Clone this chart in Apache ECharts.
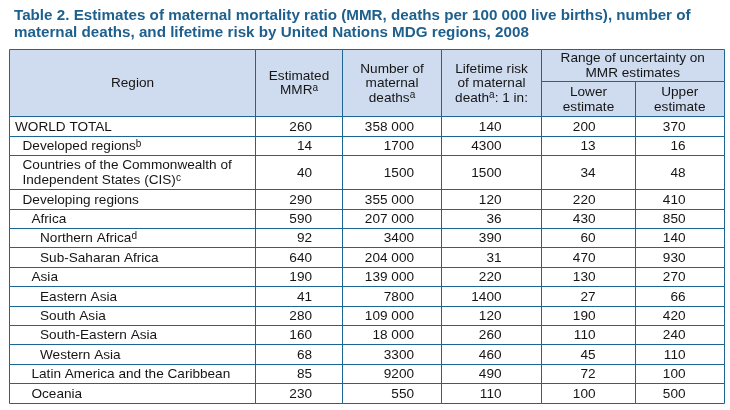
<!DOCTYPE html>
<html><head><meta charset="utf-8">
<script src="https://cdn.jsdelivr.net/npm/echarts@6/dist/echarts.min.js"></script>
<style>html,body{margin:0;padding:0;background:#fff}#c{width:730px;height:410px}</style>
</head><body><div id="c"></div>
<script>
// ---------- data ----------
const titleText = 'Table 2. Estimates of maternal mortality ratio (MMR, deaths per 100 000 live births), number of\nmaternal deaths, and lifetime risk by United Nations MDG regions, 2008';
const columnTitles = [
  'Region',
  'Estimated\nMMR{sup|a}',
  'Number of\nmaternal\ndeaths{sup|a}',
  'Lifetime risk\nof maternal\ndeath{sup|a}: 1 in:',
  'Range of uncertainty on\nMMR estimates',
  'Lower\nestimate',
  'Upper\nestimate'
];
const regions = [
  'WORLD TOTAL',
  'Developed regions',
  'Countries of the Commonwealth of\nIndependent States (CIS)',
  'Developing regions',
  'Africa',
  'Northern Africa',
  'Sub-Saharan Africa',
  'Asia',
  'Eastern Asia',
  'South Asia',
  'South-Eastern Asia',
  'Western Asia',
  'Latin America and the Caribbean',
  'Oceania'
];
const regionNotes = ['', 'b', 'c', '', '', 'd', '', '', '', '', '', '', '', ''];
const regionLevels = [0, 1, 1, 1, 2, 3, 3, 2, 3, 3, 3, 3, 2, 2];
const mmr          = [260, 14, 40, 290, 590, 92, 640, 190, 41, 280, 160, 68, 85, 230];
const deaths       = [358000, 1700, 1500, 355000, 207000, 3400, 204000, 139000, 7800, 109000, 18000, 3300, 9200, 550];
const lifetimeRisk = [140, 4300, 1500, 120, 36, 390, 31, 220, 1400, 120, 260, 460, 490, 110];
const lowerEst     = [200, 13, 34, 220, 430, 60, 470, 130, 27, 190, 110, 45, 72, 100];
const upperEst     = [370, 16, 48, 410, 850, 140, 930, 270, 66, 420, 240, 110, 100, 500];

// ---------- layout / style ----------
const FONT = '"Liberation Sans", Arial, Helvetica, sans-serif';
const LINE = '#1d6592';
const HEAD_BG = '#cfdcef';
const TXT = '#151515';
const FS = 13.6;
const COL_EDGES = [0, 246, 333, 432, 532, 626, 714.5];
const NUM_RIGHT = [302.5, 404.5, 492, 586, 676];
const INDENT = [5.5, 13, 22, 30.5];
const HEADER_H = 3.5, SPLIT_H = 1.7;
const rowH = regions.map(r => r.indexOf('\n') >= 0 ? 1.75 : 1);
const rowTop = [];
let acc = HEADER_H;
rowH.forEach(h => { rowTop.push(acc); acc += h; });
const TOTAL_H = acc;
const headerCells = [
  [0, 1, 0, HEADER_H], [1, 2, 0, HEADER_H], [2, 3, 0, HEADER_H], [3, 4, 0, HEADER_H],
  [4, 6, 0, SPLIT_H], [4, 5, SPLIT_H, HEADER_H], [5, 6, SPLIT_H, HEADER_H]
];
const rich = {
  sup: { fontSize: 10, fontFamily: FONT, fill: TXT, color: TXT, verticalAlign: 'top', lineHeight: 13 }
};
const snap = v => Math.round(v - 0.5) + 0.5;
const fmt = n => n >= 10000 ? String(n).replace(/\B(?=(\d{3})+(?!\d))/g, ' ') : String(n);
const numCols = [mmr, deaths, lifetimeRisk, lowerEst, upperEst];

function cellRect(api, c0, c1, y0, y1, fill) {
  const p0 = api.coord([COL_EDGES[c0], y0]);
  const p1 = api.coord([COL_EDGES[c1], y1]);
  const x = snap(p0[0]), y = snap(p0[1]);
  return {
    type: 'rect',
    shape: { x: x, y: y, width: snap(p1[0]) - x, height: snap(p1[1]) - y },
    style: { fill: fill, stroke: LINE, lineWidth: 1 }
  };
}

function renderHeader(params, api) {
  const i = params.dataIndex;
  const c = headerCells[i];
  const rect = cellRect(api, c[0], c[1], c[2], c[3], HEAD_BG);
  const p0 = api.coord([COL_EDGES[c[0]], c[2]]);
  const p1 = api.coord([COL_EDGES[c[1]], c[3]]);
  return {
    type: 'group',
    children: [rect, {
      type: 'text',
      style: {
        text: columnTitles[i], x: (p0[0] + p1[0]) / 2, y: (p0[1] + p1[1]) / 2 + 0.5,
        align: 'center', verticalAlign: 'middle',
        fontSize: FS, fontFamily: FONT, fill: TXT, lineHeight: 14.5, rich: rich
      },
      z2: 10
    }]
  };
}

function renderRow(params, api) {
  const i = params.dataIndex;
  const y0 = rowTop[i], y1 = y0 + rowH[i];
  const children = [];
  for (let c = 0; c < 6; c++) children.push(cellRect(api, c, c + 1, y0, y1, 'rgba(255,255,255,0)'));
  const mid = (api.coord([0, y0])[1] + api.coord([0, y1])[1]) / 2 + 0.5;
  const left = api.coord([0, y0])[0];
  children.push({
    type: 'text', z2: 10,
    style: {
      text: regions[i] + (regionNotes[i] ? '{sup|' + regionNotes[i] + '}' : ''),
      x: left + INDENT[regionLevels[i]], y: mid,
      align: 'left', verticalAlign: 'middle',
      fontSize: FS, fontFamily: FONT, fill: TXT, lineHeight: 15, rich: rich
    }
  });
  numCols.forEach((arr, k) => {
    const px = api.coord([NUM_RIGHT[k], y0])[0];
    children.push({
      type: 'text', z2: 10,
      style: {
        text: fmt(arr[i]), x: px, y: mid, align: 'right', verticalAlign: 'middle',
        fontSize: FS, fontFamily: FONT, fill: TXT
      }
    });
  });
  return { type: 'group', children: children };
}

const chart = echarts.init(document.getElementById('c'));
chart.setOption({
  backgroundColor: '#ffffff',
  animation: false,
  title: {
    text: titleText, left: 9, top: 2,
    textStyle: { fontSize: 15.2, fontWeight: 'bold', fontFamily: FONT, color: '#1d5f8d', lineHeight: 17 }
  },
  grid: { left: 9.5, top: 49, width: 714.5, height: 354 },
  xAxis: { type: 'value', min: 0, max: 714.5, show: false },
  yAxis: { type: 'value', min: 0, max: TOTAL_H, inverse: true, show: false },
  series: [
    { type: 'custom', name: 'header', renderItem: renderHeader, data: columnTitles.map((t, i) => [i, 0]), silent: true, clip: false },
    { type: 'custom', name: 'rows', renderItem: renderRow, data: regions.map((r, i) => [i, rowTop[i]]), silent: true, clip: false }
  ]
});
</script>
</body></html>
